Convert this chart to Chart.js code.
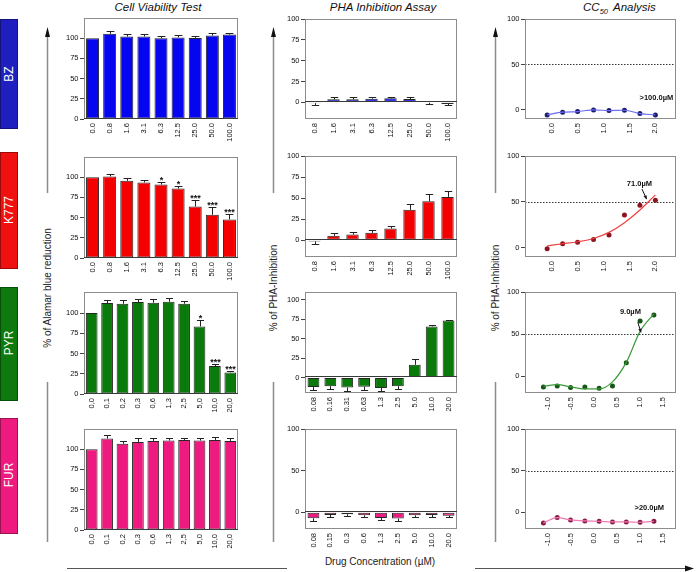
<!DOCTYPE html>
<html>
<head>
<meta charset="utf-8">
<script src="https://cdn.jsdelivr.net/npm/chart.js@4.4.1/dist/chart.umd.min.js"></script>
<style>
  body { margin: 0; width: 696px; height: 572px; background: #fff; position: relative; overflow: hidden;
         font-family: "Liberation Sans", Arial, sans-serif; }
  canvas { position: absolute; }
  svg { position: absolute; left: 0; top: 0; }
</style>
</head>
<body>
<svg width="696" height="572" font-family="Liberation Sans, Arial, sans-serif">
  <!-- titles -->
  <text x="158" y="11" text-anchor="middle" font-size="11.5" font-style="italic" fill="#111">Cell Viability Test</text>
  <text x="383" y="11" text-anchor="middle" font-size="11.5" font-style="italic" fill="#111">PHA Inhibition Assay</text>
  <text x="583" y="11" font-size="11.5" font-style="italic" fill="#111">CC<tspan dy="3" font-size="7.5">50</tspan><tspan dy="-3" dx="5">Analysis</tspan></text>

  <!-- drug label boxes -->
  <rect x="0.5" y="19.5" width="17" height="109" fill="#1f1fbf" stroke="#14147a"/>
  <text transform="translate(12.8,74) rotate(-90)" text-anchor="middle" font-size="12" fill="#fff">BZ</text>
  <rect x="0.5" y="152.5" width="17" height="116" fill="#f01010" stroke="#9a0a0a"/>
  <text transform="translate(12.8,210) rotate(-90)" text-anchor="middle" font-size="12" fill="#fff">K777</text>
  <rect x="0.5" y="287.5" width="17" height="113" fill="#0e7a0e" stroke="#075007"/>
  <text transform="translate(12.8,343) rotate(-90)" text-anchor="middle" font-size="12" fill="#fff">PYR</text>
  <rect x="0.5" y="418.5" width="17" height="115" fill="#ee1a80" stroke="#9a1050"/>
  <text transform="translate(12.8,475) rotate(-90)" text-anchor="middle" font-size="12" fill="#fff">FUR</text>

  <!-- vertical axis arrows -->
  <g stroke="#8c8c8c" stroke-width="1.5" fill="none">
    <path d="M47.5,34 L47.5,193 M47.5,382 L47.5,542"/>
    <path d="M273.5,34 L273.5,193 M273.5,382 L273.5,542"/>
    <path d="M495.5,34 L495.5,193 M495.5,382 L495.5,542"/>
  </g>
  <g fill="#111">
    <polygon points="45,37 47.5,27 50,37"/>
    <polygon points="271,37 273.5,27 276,37"/>
    <polygon points="493,37 495.5,27 498,37"/>
  </g>
  <text transform="translate(51,288) rotate(-90)" text-anchor="middle" font-size="10" fill="#222">% of Alamar blue reduction</text>
  <text transform="translate(277,288) rotate(-90)" text-anchor="middle" font-size="10" fill="#222">% of PHA-Inhibition</text>
  <text transform="translate(499,288) rotate(-90)" text-anchor="middle" font-size="10" fill="#222">% of PHA-Inhibition</text>

  <!-- bottom axis arrow -->
  <path d="M67,568.5 L287,568.5 M475,568.5 L688,568.5" stroke="#555" stroke-width="1"/>
  <polygon points="685,565.5 694,568.5 685,571.5" fill="#111"/>
  <text x="380" y="565" text-anchor="middle" font-size="10" fill="#222">Drug Concentration (µM)</text>
</svg>

<script>
// ---------------- data ----------------
// Cell viability test (% Alamar blue reduction), concentrations in µM
const viaLabelsBZ = ['0.0', '0.8', '1.6', '3.1', '6.3', '12.5', '25.0', '50.0', '100.0'];
const viaLabelsPYR = ['0,0', '0,1', '0,2', '0,3', '0,6', '1,3', '2,5', '5,0', '10,0', '20,0'];
const viaBZ = [100, 105.4, 102, 102, 100, 101, 100.4, 103.3, 104.5];
const viaBZerr = [0, 3.3, 3, 3, 3, 3, 2.6, 2.7, 2.5];
const viaK777 = [100, 101, 95.5, 93.5, 91, 86, 63.7, 53.5, 47.8];
const viaK777err = [0, 2.7, 3.3, 3.2, 3.3, 2.6, 7.7, 9.4, 7.2];
const viaK777sig = ['', '', '', '', '*', '*', '***', '***', '***'];
const viaPYR = [100, 112.3, 111.5, 113.6, 112.8, 114, 111.5, 83.5, 34.6, 26.7];
const viaPYRerr = [0, 3.7, 4.5, 3.7, 4.1, 4, 3.3, 7.9, 2.8, 1.7];
const viaPYRsig = ['', '', '', '', '', '', '', '*', '***', '***'];
const viaFUR = [100, 113.2, 106.6, 109, 110.3, 110.7, 111.5, 110.7, 111.5, 110.3];
const viaFURerr = [0, 4.1, 3.3, 4.6, 4.1, 2.9, 2.9, 3.3, 3.7, 3.7];

// PHA inhibition assay (% of PHA-inhibition)
const phaLabelsBZ = ['0.8', '1.6', '3.1', '6.3', '12.5', '25.0', '50.0', '100.0'];
const phaLabelsPYR = ['0.08', '0.16', '0.31', '0.63', '1.3', '2.5', '5.0', '10.0', '20.0'];
const phaLabelsFUR = ['0.08', '0.15', '0.3', '0.6', '1.3', '2.5', '5.0', '10.0', '20.0'];
const phaBZ = [-1, 3.6, 3.6, 4.4, 4.8, 4, -0.5, -2];
const phaBZerr = [2.6, 2.4, 2.4, 2, 2, 2, 1.5, 1.2];
const phaK777 = [-1.5, 5.1, 6.7, 8.7, 13.8, 36, 46.2, 51.4];
const phaK777err = [2.5, 3.2, 2.8, 2.8, 2.8, 7.5, 9.1, 6.7];
const phaPYR = [-12.4, -11.2, -12.9, -12, -13.7, -11.2, 16.3, 65.7, 73.4];
const phaPYRerr = [3.5, 3.8, 4.1, 4.3, 3.9, 3.4, 7.7, 2.1, 0.8];
const phaFUR = [-7.1, -3.2, -2.4, -3.6, -6.7, -7.5, -3.6, -3.2, -4];
const phaFURerr = [2.8, 2, 1.6, 2, 2.4, 2.8, 2, 2, 1.2];

// CC50 analysis: log10(concentration) vs % of PHA-inhibition, plus fitted curve
const logBZ = [-0.1, 0.2, 0.49, 0.8, 1.1, 1.4, 1.7, 2.0];
const logPYR = [-1.1, -0.8, -0.51, -0.2, 0.11, 0.4, 0.7, 1.0, 1.3];
const ccBZ = [-5.5, -2.5, -1.8, 0, -0.7, -0.4, -4, -5.5];
const ccK777 = [-1, 4.4, 6.2, 9.1, 13.9, 35.8, 46.4, 51.8];
const fitK777 = [2.2, 4.4, 6.6, 10.2, 16.8, 27.4, 41.2, 57.7];
const ccPYR = [-12.8, -11.6, -13.6, -12.8, -14.4, -11.6, 16, 65.6, 72.8];
const fitPYR = [-12, -10, -12.8, -15.2, -15.2, -6.8, 16.4, 53.2, 74];
const ccFUR = [-12.7, -6.3, -9.1, -10.3, -10.7, -11.5, -11.5, -11.9, -10.7];

// ---------------- layout ----------------
const YW = 30, XH = 36, PT = 8, PR = 8;

Chart.defaults.font.family = '"Liberation Sans", Arial, sans-serif';
Chart.defaults.color = '#111';

// frame round the plot area + optional zero line
const framePlugin = {
    id: 'frame',
    afterDatasetsDraw(chart, args, opts) {
        const a = chart.chartArea, ctx = chart.ctx;
        ctx.save();
        ctx.lineWidth = 1;
        ctx.strokeStyle = '#8c8c8c';
        ctx.strokeRect(Math.round(a.left) + 0.5, Math.round(a.top) + 0.5,
                       Math.round(a.right - a.left) - 1, Math.round(a.bottom - a.top) - 1);
        if (opts.zero) {
            const y0 = Math.round(chart.scales.y.getPixelForValue(0)) - 0.5;
            ctx.strokeStyle = '#3a3a3a';
            ctx.beginPath();
            ctx.moveTo(a.left, y0);
            ctx.lineTo(a.right, y0);
            ctx.stroke();
        }
        ctx.restore();
    }
};

// SEM whiskers and significance stars
const errorBarsPlugin = {
    id: 'errorBars',
    afterDatasetsDraw(chart, args, opts) {
        if (!opts.err) return;
        const ctx = chart.ctx, y = chart.scales.y;
        const vals = chart.data.datasets[0].data;
        ctx.save();
        ctx.strokeStyle = '#222';
        ctx.fillStyle = '#111';
        ctx.lineWidth = 1;
        chart.getDatasetMeta(0).data.forEach((bar, i) => {
            const e = opts.err[i];
            if (!e) return;
            const v = vals[i];
            const tip = v >= 0 ? v + e : v - e;
            const x = Math.round(bar.x) + 0.5;
            const y0 = y.getPixelForValue(v), y1 = Math.round(y.getPixelForValue(tip)) + 0.5;
            const cap = bar.width * 0.3;
            ctx.beginPath();
            ctx.moveTo(x, y0);
            ctx.lineTo(x, y1);
            ctx.moveTo(x - cap, y1);
            ctx.lineTo(x + cap, y1);
            ctx.stroke();
            if (opts.sig && opts.sig[i]) {
                ctx.font = 'bold 9px "Liberation Sans", Arial';
                ctx.textAlign = 'center';
                ctx.textBaseline = 'alphabetic';
                ctx.fillText(opts.sig[i], x, y1 + 0.5);
            }
        });
        ctx.restore();
    }
};

// dotted 50% line, CC50 label and arrow
const notesPlugin = {
    id: 'notes',
    beforeDatasetsDraw(chart, args, opts) {
        if (!opts.half) return;
        const a = chart.chartArea, ctx = chart.ctx;
        const y50 = Math.round(chart.scales.y.getPixelForValue(50)) + 0.5;
        ctx.save();
        ctx.strokeStyle = '#333';
        ctx.lineWidth = 1;
        ctx.setLineDash([1.5, 1.5]);
        ctx.beginPath();
        ctx.moveTo(a.left, y50);
        ctx.lineTo(a.right, y50);
        ctx.stroke();
        ctx.restore();
    },
    afterDatasetsDraw(chart, args, opts) {
        if (!opts.text) return;
        const ctx = chart.ctx, sx = chart.scales.x, sy = chart.scales.y;
        ctx.save();
        ctx.fillStyle = '#111';
        ctx.font = 'bold 7.5px "Liberation Sans", Arial';
        ctx.textAlign = 'center';
        ctx.textBaseline = 'middle';
        ctx.fillText(opts.text, sx.getPixelForValue(opts.at[0]), sy.getPixelForValue(opts.at[1]));
        if (opts.arrow) {
            const x1 = sx.getPixelForValue(opts.arrow[0]), y1 = sy.getPixelForValue(opts.arrow[1]);
            const x2 = sx.getPixelForValue(opts.arrow[2]), y2 = sy.getPixelForValue(opts.arrow[3]);
            const ang = Math.atan2(y2 - y1, x2 - x1);
            ctx.strokeStyle = '#111';
            ctx.lineWidth = 1;
            ctx.beginPath();
            ctx.moveTo(x1, y1);
            ctx.lineTo(x2, y2);
            ctx.stroke();
            ctx.beginPath();
            ctx.moveTo(x2, y2);
            ctx.lineTo(x2 - 4 * Math.cos(ang - 0.45), y2 - 4 * Math.sin(ang - 0.45));
            ctx.lineTo(x2 - 4 * Math.cos(ang + 0.45), y2 - 4 * Math.sin(ang + 0.45));
            ctx.closePath();
            ctx.fill();
        }
        ctx.restore();
    }
};

Chart.register(framePlugin, errorBarsPlugin, notesPlugin);

function makeCanvas(box) {
    const c = document.createElement('canvas');
    c.width = box.w + YW + PR;
    c.height = box.h + PT + XH;
    c.style.left = (box.x - YW) + 'px';
    c.style.top = (box.y - PT) + 'px';
    document.body.appendChild(c);
    return c;
}

function yScale(range, ticks) {
    return {
        min: range[0], max: range[1],
        afterBuildTicks: s => { s.ticks = ticks.map(v => ({ value: v })); },
        afterFit: s => { s.width = YW; },
        grid: { drawOnChartArea: false, drawTicks: true, tickLength: 4, color: '#444' },
        border: { display: false },
        ticks: { font: { size: 7.5 }, padding: 1.5, color: '#111' }
    };
}

function xTickStyle() {
    return { minRotation: 90, maxRotation: 90, autoSkip: false, font: { size: 7.5 }, padding: 4, color: '#111' };
}

function baseOptions(scales, plugins) {
    return {
        responsive: false, animation: false, devicePixelRatio: 1,
        layout: { padding: { top: PT, right: PR, left: 0, bottom: 0 } },
        plugins: Object.assign({ legend: { display: false }, tooltip: { enabled: false } }, plugins),
        scales: scales
    };
}

function barChart(box, labels, values, err, sig, fill, yRange, yTicks, barPct) {
    return new Chart(makeCanvas(box), {
        type: 'bar',
        data: {
            labels: labels,
            datasets: [{
                data: values, backgroundColor: fill, borderColor: '#262626', borderWidth: 1,
                borderSkipped: false, barPercentage: barPct, categoryPercentage: 1
            }]
        },
        options: baseOptions({
            x: {
                offset: true,
                grid: { display: false, drawTicks: false },
                border: { display: false },
                ticks: xTickStyle(),
                afterFit: s => { s.height = XH; }
            },
            y: yScale(yRange, yTicks)
        }, { frame: { zero: true }, errorBars: { err: err, sig: sig } })
    });
}

function ccChart(box, xs, pts, fit, ptColor, lineColor, xRange, xTicks, yRange, note) {
    const toXY = arr => xs.map((x, i) => ({ x: x, y: arr[i] }));
    return new Chart(makeCanvas(box), {
        type: 'scatter',
        data: {
            datasets: [
                { data: toXY(fit), showLine: true, borderColor: lineColor, borderWidth: 1.2, pointRadius: 0,
                  cubicInterpolationMode: 'monotone', fill: false },
                { data: toXY(pts), showLine: false, pointRadius: 2.5, backgroundColor: ptColor,
                  borderColor: ptColor, borderWidth: 0 }
            ]
        },
        options: baseOptions({
            x: {
                type: 'linear', min: xRange[0], max: xRange[1],
                afterBuildTicks: s => { s.ticks = xTicks.map(v => ({ value: v })); },
                grid: { display: false, drawTicks: false },
                border: { display: false },
                ticks: Object.assign(xTickStyle(), { callback: v => v.toFixed(1) }),
                afterFit: s => { s.height = XH; }
            },
            y: yScale(yRange, [0, 50, 100])
        }, { frame: { zero: false }, notes: Object.assign({ half: true }, note) })
    });
}

const quarterTicks = [0, 25, 50, 75, 100];
const xTicksBZ = [0, 0.5, 1, 1.5, 2];
const xTicksPYR = [-1, -0.5, 0, 0.5, 1, 1.5];

// Cell viability column
barChart({ x: 84, y: 18, w: 154, h: 101 }, viaLabelsBZ, viaBZ, viaBZerr, null, '#0505f0', [0, 125], quarterTicks, 0.76);
barChart({ x: 84, y: 157, w: 154, h: 101 }, viaLabelsBZ, viaK777, viaK777err, viaK777sig, '#f50000', [0, 125], quarterTicks, 0.76);
barChart({ x: 84, y: 292, w: 154, h: 102 }, viaLabelsPYR, viaPYR, viaPYRerr, viaPYRsig, '#0a7a0a', [0, 126], quarterTicks, 0.76);
barChart({ x: 84, y: 429, w: 154, h: 101 }, viaLabelsPYR, viaFUR, viaFURerr, null, '#ee1a80', [0, 125], quarterTicks, 0.76);

// PHA inhibition column
barChart({ x: 305, y: 19, w: 152, h: 100 }, phaLabelsBZ, phaBZ, phaBZerr, null, '#0505f0', [-20, 100], quarterTicks, 0.65);
barChart({ x: 305, y: 156, w: 152, h: 101 }, phaLabelsBZ, phaK777, phaK777err, null, '#f50000', [-20, 100], quarterTicks, 0.65);
barChart({ x: 305, y: 292, w: 152, h: 101 }, phaLabelsPYR, phaPYR, phaPYRerr, null, '#0a7a0a', [-20, 110], quarterTicks, 0.7);
barChart({ x: 305, y: 429, w: 152, h: 100 }, phaLabelsFUR, phaFUR, phaFURerr, null, '#ee1a80', [-20, 100], [0, 50, 100], 0.7);

// CC50 column
ccChart({ x: 525, y: 19, w: 151, h: 100 }, logBZ, ccBZ, ccBZ, '#1a1a6e', '#6b6bf5',
        [-0.53, 2.4], xTicksBZ, [-10, 100], { text: '>100.0µM', at: [2.02, 13] });
ccChart({ x: 525, y: 156, w: 151, h: 101 }, logBZ, ccK777, fitK777, '#8b1420', '#f04040',
        [-0.53, 2.4], xTicksBZ, [-10, 100], { text: '71.0µM', at: [1.69, 69.6], arrow: [1.74, 64, 1.83, 53] });
ccChart({ x: 525, y: 292, w: 151, h: 101 }, logPYR, ccPYR, fitPYR, '#155515', '#3a9a3a',
        [-1.5, 1.78], xTicksPYR, [-20, 100], { text: '9.0µM', at: [0.79, 76], arrow: [0.95, 64, 1.02, 52] });
ccChart({ x: 525, y: 429, w: 151, h: 100 }, logPYR, ccFUR, ccFUR, '#8a1a4a', '#f07ab0',
        [-1.5, 1.78], xTicksPYR, [-20, 100], { text: '>20.0µM', at: [1.2, 4.8] });
</script>
</body>
</html>
